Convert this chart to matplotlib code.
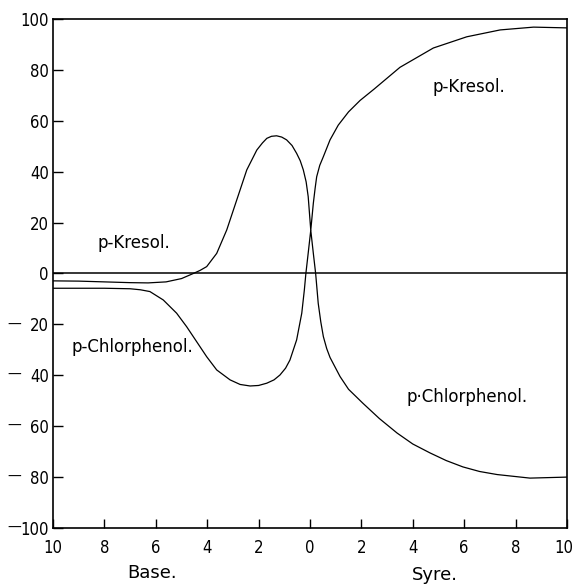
import matplotlib
matplotlib.use("Agg")
import matplotlib.pyplot as plt
import matplotlib.transforms as mtransforms

# curve: p-Kresol (left hump, then right rising branch)
kresol_x = [-10, -9, -8, -7, -6.3, -5.6, -5.0, -4.54, -4.28, -4.02, -3.63, -3.24, -2.85,
            -2.46, -2.07, -1.85, -1.68, -1.50, -1.30, -1.10, -0.91, -0.70, -0.52, -0.38,
            -0.26, -0.15, -0.07, 0.03, 0.13, 0.20, 0.26, 0.38, 0.52, 0.78, 1.10, 1.5,
            1.95, 2.5, 3.5, 4.8, 6.1, 7.4, 8.7, 10]
kresol_y = [-2.9, -3.0, -3.3, -3.6, -3.7, -3.3, -2.0, 0, 1.2, 2.7, 7.9, 17.1, 28.9,
            40.7, 48.5, 51.3, 53.1, 53.9, 54.1, 53.6, 52.5, 50.3, 47.2, 44.3,
            40.7, 36, 30.2, 17, 27.6, 33.5, 38, 42.5, 45.9, 52.5, 58.3, 63.5,
            68, 72.5, 81, 88.6, 93, 95.7, 96.8, 96.5]

# p-Chlorphenol (left trough, then right falling branch)
chlor_x = [-10, -9, -8, -7, -6.6, -6.23, -5.71, -5.19, -4.80, -4.41, -4.02, -3.63,
           -3.11, -2.72, -2.33, -2.0, -1.68, -1.40, -1.17, -0.95, -0.78, -0.52, -0.32,
           -0.22, -0.16, -0.07, 0.03, 0.13, 0.22, 0.32, 0.42, 0.52, 0.65, 0.78, 1.17,
           1.5, 2.06, 2.7, 3.39, 4.0, 4.67, 5.3, 5.95, 6.6, 7.28, 8.56, 10]
chlor_y = [-5.8, -5.8, -5.8, -6.0, -6.4, -7.1, -10.4, -15.6, -20.9, -26.8, -32.7, -37.9,
           -41.8, -43.6, -44.2, -44.0, -43.1, -41.8, -39.9, -37.2, -34, -26.1, -15.6,
           -6.5, 0, 8, 17, 7.9, 0, -11.7, -19, -24.8, -29.5, -33, -40.5,
           -45.5, -51, -57, -62.7, -67, -70.5, -73.5, -76, -77.8, -79, -80.4, -80]

x_ticks = [-10, -8, -6, -4, -2, 0, 2, 4, 6, 8, 10]
y_ticks = [-100, -80, -60, -40, -20, 0, 20, 40, 60, 80, 100]

tick_font = ["DejaVu Sans"]
label_font = ["DejaVu Sans"]

fig = plt.figure(figsize=(5.73, 5.84), dpi=100)
ax = fig.add_axes([0.0925, 0.0959, 0.897, 0.8716])

ax.plot(kresol_x, kresol_y, color="black", lw=0.9)
ax.plot(chlor_x, chlor_y, color="black", lw=0.9)
ax.axhline(0, color="black", lw=1.1)

ax.set_xlim(-10, 10)
ax.set_ylim(-100, 100)
ax.set_xticks(x_ticks)
ax.set_xticklabels([str(abs(v)) for v in x_ticks], family=tick_font,
                   fontsize=12, stretch="condensed")
ax.set_yticks(y_ticks)
ax.set_yticklabels([str(abs(v)) for v in y_ticks], family=tick_font,
                   fontsize=12, stretch="condensed")
ax.tick_params(axis="y", direction="in", length=7, width=1, pad=3)
ax.tick_params(axis="x", direction="in", length=6.5, width=1, pad=8)
for s in ax.spines.values():
    s.set_linewidth(1.2)

# nudge the last x label so it stays inside the picture
last = ax.get_xticklabels()[-1]
last.set_transform(last.get_transform() + mtransforms.ScaledTranslation(-2 / 72, 0, fig.dpi_scale_trans))

# dashes in front of the negative y labels
trans = mtransforms.blended_transform_factory(ax.transAxes, ax.transData)
for v in y_ticks:
    if v < 0:
        ax.text(-0.062, v, "\u2014", transform=trans, ha="right", va="center",
                family=tick_font, fontsize=10, clip_on=False)

# curve labels
ax.text(-6.85, 12, "p-Kresol.", ha="center", va="center", family=label_font, fontsize=12)
ax.text(-6.93, -28.9, "p-Chlorphenol.", ha="center", va="center", family=label_font, fontsize=12)
ax.text(6.19, 73.3, "p-Kresol.", ha="center", va="center", family=label_font, fontsize=12)
ax.text(6.11, -48.5, "p\u00b7Chlorphenol.", ha="center", va="center", family=label_font, fontsize=12)

# axis side labels
trans_x = mtransforms.blended_transform_factory(ax.transData, ax.transAxes)
ax.text(-6.15, -0.088, "Base.", transform=trans_x, ha="center", va="center",
        family=label_font, fontsize=13, clip_on=False)
ax.text(4.86, -0.092, "Syre.", transform=trans_x, ha="center", va="center",
        family=label_font, fontsize=13, clip_on=False)

fig.savefig("out.png", dpi=100)
